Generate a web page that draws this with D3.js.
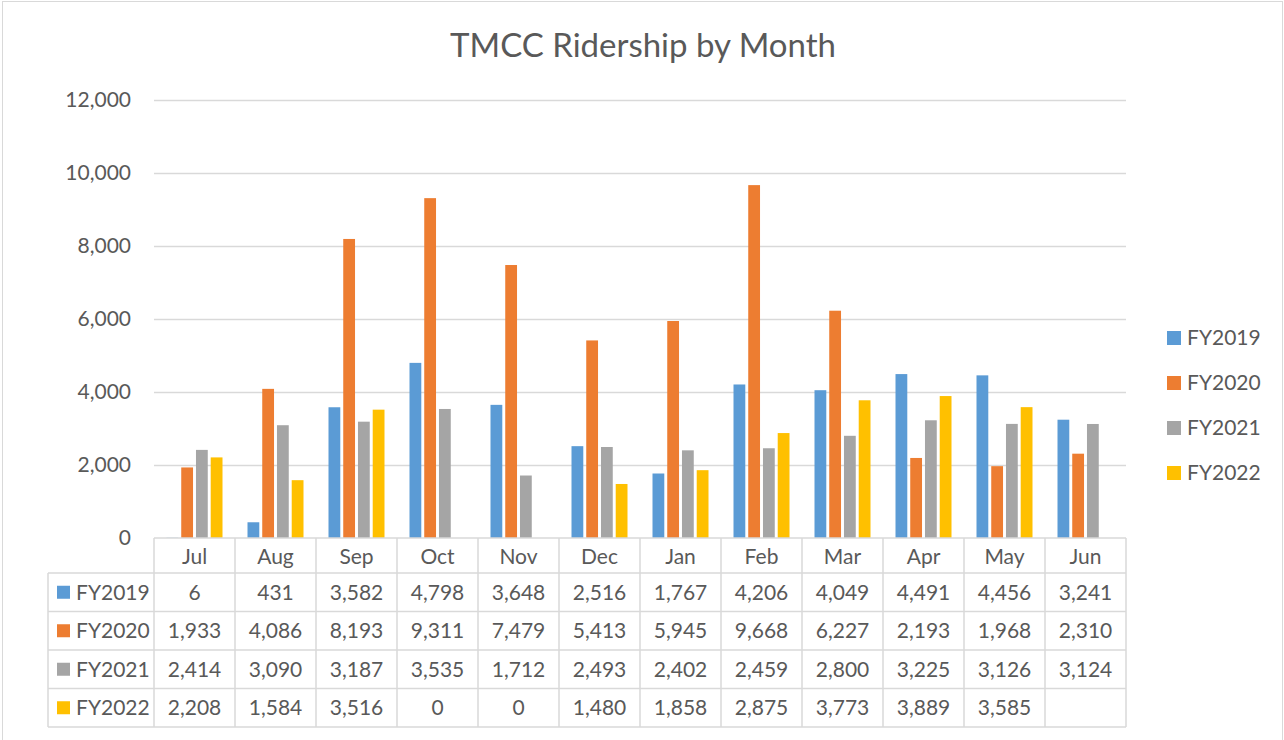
<!DOCTYPE html>
<html lang="en">
<head>
  <meta charset="UTF-8">
  <title>TMCC Ridership by Month</title>
  <style>
    body {
      margin: 0;
      padding: 0;
      background-color: #fff;
      font-family: Lato, "Open Sans", Arial, sans-serif;
    }
    #chart { width: 1284px; height: 740px; }
    .grid line { stroke: #d9d9d9; stroke-width: 1.5px; }
    .grid path { display: none; }
    .ytick text, .cell, .label { fill: #595959; }
    .tbl { stroke: #d9d9d9; stroke-width: 1.5px; fill: none; }
  </style>
</head>
<body>
  <div id="chart"></div>
  <script src="https://d3js.org/d3.v7.min.js"></script>
  <script>
    const months = ["Jul", "Aug", "Sep", "Oct", "Nov", "Dec", "Jan", "Feb", "Mar", "Apr", "May", "Jun"];
    const seriesNames = ["FY2019", "FY2020", "FY2021", "FY2022"];
    const colors = ["#5b9bd5", "#ed7d31", "#a5a5a5", "#ffc000"];

    const fy2019 = [6, 431, 3582, 4798, 3648, 2516, 1767, 4206, 4049, 4491, 4456, 3241];
    const fy2020 = [1933, 4086, 8193, 9311, 7479, 5413, 5945, 9668, 6227, 2193, 1968, 2310];
    const fy2021 = [2414, 3090, 3187, 3535, 1712, 2493, 2402, 2459, 2800, 3225, 3126, 3124];
    const fy2022 = [2208, 1584, 3516, 0, 0, 1480, 1858, 2875, 3773, 3889, 3585, null];
    const values = [fy2019, fy2020, fy2021, fy2022];

    const yTicks = [0, 2000, 4000, 6000, 8000, 10000, 12000];

    const width = 1284;
    const height = 740;
    const plot = { left: 154, right: 1126, top: 100, bottom: 538 };
    const rowH = 38.5;
    const headH = 35;
    const tableLeft = 48;

    const svg = d3.select("#chart")
      .append("svg")
      .attr("width", width)
      .attr("height", height);

    // outer chart border
    svg.append("rect")
      .attr("x", 2.5).attr("y", 1.5)
      .attr("width", 1280).attr("height", 745)
      .attr("fill", "#fff").attr("stroke", "#d9d9d9").attr("stroke-width", 1);

    const x0 = d3.scaleBand().domain(months).range([plot.left, plot.right]);
    const x1 = d3.scaleBand().domain(seriesNames)
      .range([12.5, x0.bandwidth() - 12.5]).paddingInner(0.2);
    const y = d3.scaleLinear().domain([0, 12000]).range([plot.bottom, plot.top]);
    const fmt = d3.format(",");

    // gridlines
    svg.append("g")
      .attr("class", "grid")
      .attr("transform", `translate(${plot.left},0)`)
      .call(d3.axisLeft(y).tickValues(yTicks.filter(d => d > 0))
        .tickSize(-(plot.right - plot.left)).tickFormat(""));

    // y labels
    svg.append("g").selectAll("text")
      .data(yTicks)
      .join("text")
      .attr("class", "label")
      .attr("x", 131)
      .attr("y", d => y(d))
      .attr("dy", "0.35em")
      .attr("text-anchor", "end")
      .style("font-size", "21px")
      .text(d => fmt(d));

    // bars
    const flat = [];
    values.forEach((arr, si) => arr.forEach((v, mi) => {
      if (v !== null) flat.push({ s: seriesNames[si], si, m: months[mi], v });
    }));

    svg.append("g").selectAll("rect")
      .data(flat)
      .join("rect")
      .attr("x", d => x0(d.m) + x1(d.s))
      .attr("width", x1.bandwidth())
      .attr("y", d => y(d.v))
      .attr("height", d => y(0) - y(d.v))
      .attr("fill", d => colors[d.si]);

    // data table
    const tbl = svg.append("g");
    const tableTop = plot.bottom;
    const tableBottom = tableTop + headH + rowH * seriesNames.length;

    // horizontal lines
    tbl.append("line").attr("class", "tbl")
      .attr("x1", plot.left).attr("x2", plot.right)
      .attr("y1", tableTop).attr("y2", tableTop);
    d3.range(seriesNames.length + 1).forEach(i => {
      const yy = tableTop + headH + rowH * i;
      tbl.append("line").attr("class", "tbl")
        .attr("x1", tableLeft).attr("x2", plot.right)
        .attr("y1", yy).attr("y2", yy);
    });
    // vertical lines
    tbl.append("line").attr("class", "tbl")
      .attr("x1", tableLeft).attr("x2", tableLeft)
      .attr("y1", tableTop + headH).attr("y2", tableBottom);
    months.concat(["end"]).forEach((m, i) => {
      const xx = plot.left + x0.step() * i;
      tbl.append("line").attr("class", "tbl")
        .attr("x1", xx).attr("x2", xx)
        .attr("y1", tableTop).attr("y2", tableBottom);
    });

    // month header
    tbl.selectAll("text.head")
      .data(months)
      .join("text")
      .attr("class", "label head")
      .attr("x", d => x0(d) + x0.bandwidth() / 2)
      .attr("y", tableTop + headH / 2 + 1)
      .attr("dy", "0.35em")
      .attr("text-anchor", "middle")
      .style("font-size", "21px")
      .text(d => d);

    // row labels with keys
    seriesNames.forEach((name, si) => {
      const cy = tableTop + headH + rowH * si + rowH / 2;
      tbl.append("rect")
        .attr("x", 57).attr("y", cy - 6.5)
        .attr("width", 13).attr("height", 13)
        .attr("fill", colors[si]);
      tbl.append("text")
        .attr("class", "label")
        .attr("x", 76).attr("y", cy)
        .attr("dy", "0.35em")
        .style("font-size", "21px")
        .text(name);
      tbl.selectAll(null)
        .data(values[si])
        .join("text")
        .attr("class", "cell")
        .attr("x", (d, mi) => x0(months[mi]) + x0.bandwidth() / 2)
        .attr("y", cy)
        .attr("dy", "0.35em")
        .attr("text-anchor", "middle")
        .style("font-size", "21px")
        .text(d => d === null ? "" : fmt(d));
    });

    // legend
    const legend = svg.append("g");
    seriesNames.forEach((name, si) => {
      const cy = 338 + 45 * si;
      legend.append("rect")
        .attr("x", 1167).attr("y", cy - 7)
        .attr("width", 14).attr("height", 14)
        .attr("fill", colors[si]);
      legend.append("text")
        .attr("class", "label")
        .attr("x", 1187).attr("y", cy)
        .attr("dy", "0.35em")
        .style("font-size", "21px")
        .text(name);
    });

    // title
    svg.append("text")
      .attr("class", "label")
      .attr("x", 643).attr("y", 57)
      .attr("text-anchor", "middle")
      .style("font-size", "33px")
      .text("TMCC Ridership by Month");
  </script>
</body>
</html>
